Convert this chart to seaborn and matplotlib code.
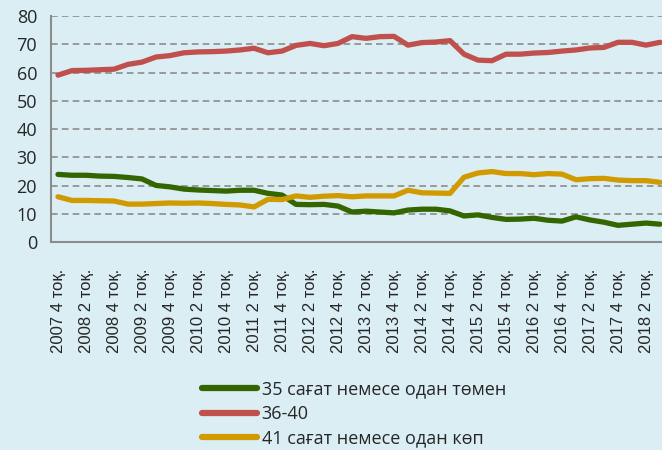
import matplotlib
matplotlib.use("Agg")
import matplotlib.pyplot as plt
import seaborn as sns
import pandas as pd

# quarters 2007 Q4 .. 2018 Q3
quarters = [f"{y} {q} тоқ." for y in range(2007, 2019) for q in (1, 2, 3, 4)]
quarters = quarters[3:47]

under_35 = [24.0, 23.7, 23.7, 23.4, 23.3, 22.9, 22.4, 20.1, 19.6, 18.8,
            18.5, 18.3, 18.1, 18.4, 18.4, 17.3, 16.7, 13.4, 13.3, 13.4,
            12.8, 10.7, 11.0, 10.7, 10.4, 11.4, 11.7, 11.7, 11.1, 9.3,
            9.7, 8.8, 8.1, 8.2, 8.5, 7.8, 7.5, 9.0, 7.9, 7.1,
            6.0, 6.4, 6.8, 6.4]
h36_40 = [59.1, 60.7, 60.8, 61.0, 61.2, 62.9, 63.7, 65.5, 66.0, 67.0,
          67.3, 67.4, 67.6, 68.0, 68.6, 67.0, 67.6, 69.6, 70.3, 69.5,
          70.3, 72.7, 72.1, 72.7, 72.8, 69.7, 70.6, 70.8, 71.3, 66.5,
          64.4, 64.2, 66.5, 66.5, 66.9, 67.1, 67.6, 68.0, 68.7, 68.9,
          70.7, 70.7, 69.7, 70.7]
over_41 = [16.1, 14.8, 14.8, 14.7, 14.6, 13.5, 13.5, 13.7, 13.9, 13.8,
           13.9, 13.7, 13.4, 13.2, 12.5, 15.2, 15.1, 16.4, 15.9, 16.3,
           16.5, 16.1, 16.4, 16.4, 16.4, 18.4, 17.5, 17.4, 17.3, 23.0,
           24.5, 25.0, 24.3, 24.3, 23.9, 24.3, 24.1, 22.1, 22.5, 22.6,
           22.0, 21.8, 21.8, 21.2]

series_names = ["35 сағат немесе одан төмен", "36-40", "41 сағат немесе одан көп"]
colors = ["#336600", "#C0504D", "#D09A00"]
bg = "#DAEEF3"

df = pd.DataFrame({"quarter": quarters, series_names[0]: under_35,
                   series_names[1]: h36_40, series_names[2]: over_41})
df["pos"] = range(len(df))
long_df = df.melt(id_vars=["quarter", "pos"], var_name="group", value_name="share")

sns.set_style("white")
plt.rcParams["font.family"] = ["Open Sans", "DejaVu Sans"]

fig = plt.figure(figsize=(6.62, 4.5), dpi=100, facecolor=bg)
ax = fig.add_axes([51 / 662, 1 - 242.3 / 450, 616 / 662, 226.3 / 450])
ax.set_facecolor(bg)

sns.lineplot(data=long_df, x="pos", y="share", hue="group",
             hue_order=series_names, palette=colors, linewidth=3.8,
             ax=ax, legend=False)

ax.set_xlim(-0.5, len(quarters) - 0.5)
ax.set_ylim(0, 80)
ax.set_yticks(range(0, 81, 10))
ax.yaxis.grid(True, linestyle=(0, (4, 2.5)), color="#8C8C8C", linewidth=1.2)
ax.set_axisbelow(True)

ax.set_xticks([i - 0.5 for i in range(len(quarters) + 1)], minor=True)
ax.set_xticks(range(0, len(quarters), 2))
ax.set_xticklabels(quarters[::2], rotation=90, fontsize=12,
                   family=["Liberation Sans", "DejaVu Sans"])
ax.tick_params(axis="x", which="major", length=0, pad=19)
ax.tick_params(axis="x", which="minor", length=6, color="#8C8C8C", width=1.2)
ax.tick_params(axis="y", length=6, color="#8C8C8C", width=1.2, labelsize=13, pad=4)
ax.set_xlabel("")
ax.set_ylabel("")

for side in ["top", "right"]:
    ax.spines[side].set_visible(False)
for side in ["left", "bottom"]:
    ax.spines[side].set_color("#8C8C8C")
    ax.spines[side].set_linewidth(1.5)

handles = [plt.Line2D([], [], color=c, linewidth=4.5, solid_capstyle="round") for c in colors]
fig.legend(handles, series_names, loc="upper left", bbox_to_anchor=(202 / 662, 1 - 380 / 450),
           frameon=False, fontsize=13, handlelength=3.05, handletextpad=0.25,
           labelspacing=0.38, borderpad=0, borderaxespad=0)

fig.savefig("out.png", dpi=100, facecolor=bg)
